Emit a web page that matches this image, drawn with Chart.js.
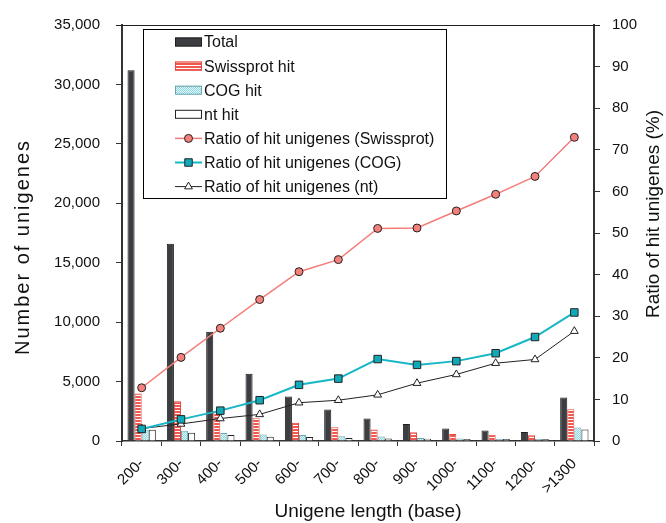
<!DOCTYPE html>
<html>
<head>
<meta charset="utf-8">
<script src="https://cdn.jsdelivr.net/npm/chart.js@4.4.1/dist/chart.umd.min.js"></script>
<style>
  body { margin: 0; background: #fff; }
  #chart { display: block; }
</style>
</head>
<body>
<canvas id="chart" width="666" height="523" style="width:666px;height:523px"></canvas>
<script>
const categories = ["200-", "300-", "400-", "500-", "600-", "700-", "800-", "900-", "1000-", "1100-", "1200-", ">1300"];

// counts (left axis)
const totalCounts = [31200, 16600, 9200, 5650, 3750, 2650, 1900, 1420, 1060, 880, 750, 3660];
const swissprotCounts = [4000, 3350, 2490, 1920, 1530, 1150, 970, 730, 590, 520, 475, 2680];
const cogCounts = [905, 860, 680, 555, 505, 400, 370, 260, 205, 186, 188, 1130];
const ntCounts = [940, 690, 500, 365, 345, 262, 212, 197, 170, 165, 147, 966];

// ratios in % (right axis)
const swissprotRatio = [12.8, 20.1, 27.1, 34.0, 40.7, 43.6, 51.1, 51.2, 55.3, 59.3, 63.6, 73.0];
const cogRatio = [2.9, 5.2, 7.3, 9.8, 13.5, 15.0, 19.7, 18.3, 19.2, 21.1, 25.0, 30.9];
const ntRatio = [3.0, 4.1, 5.4, 6.4, 9.2, 9.8, 11.1, 13.9, 16.0, 18.7, 19.6, 26.4];

const leftTicks = [0, 5000, 10000, 15000, 20000, 25000, 30000, 35000];
const rightTicks = [0, 10, 20, 30, 40, 50, 60, 70, 80, 90, 100];

const FONT = "'Liberation Sans', Arial, Helvetica, sans-serif";

function stripePattern() {
    const c = document.createElement("canvas");
    c.width = 4; c.height = 3;
    const g = c.getContext("2d");
    g.fillStyle = "#f0584f";
    g.fillRect(0, 0, 4, 3);
    g.fillStyle = "#ffffff";
    g.fillRect(0, 2, 4, 1);
    return g.createPattern(c, "repeat");
}

function dotPattern() {
    const c = document.createElement("canvas");
    c.width = 2; c.height = 2;
    const g = c.getContext("2d");
    g.fillStyle = "#e2f6f9";
    g.fillRect(0, 0, 2, 2);
    g.fillStyle = "#8fd6e0";
    g.fillRect(0, 0, 1, 1);
    g.fillRect(1, 1, 1, 1);
    return g.createPattern(c, "repeat");
}

const swissFill = stripePattern();
const cogFill = dotPattern();

const legendItems = [
    { type: "bar", label: "Total", fill: "#3d3e42", stroke: "#1e1e1e" },
    { type: "bar", label: "Swissprot hit", fill: swissFill, stroke: "#e04a42" },
    { type: "bar", label: "COG hit", fill: cogFill, stroke: "#6aa5ad" },
    { type: "bar", label: "nt hit", fill: "#ffffff", stroke: "#222" },
    { type: "line", label: "Ratio of hit unigenes (Swissprot)", line: "#f47c78", fill: "#f4807c", style: "circle", r: 4, lw: 1.5 },
    { type: "line", label: "Ratio of hit unigenes (COG)", line: "#17b7c7", fill: "#10a9b9", style: "rect", r: 5.3, lw: 2 },
    { type: "line", label: "Ratio of hit unigenes (nt)", line: "#222", fill: "#ffffff", style: "triangle", r: 4.5, lw: 1 }
];

function drawMarker(ctx, style, r, x, y) {
    if (style === "circle") {
        ctx.arc(x, y, r, 0, Math.PI * 2);
    } else if (style === "rect") {
        const s = r * Math.SQRT1_2;
        ctx.rect(x - s, y - s, 2 * s, 2 * s);
    } else {
        const h = r * Math.sqrt(3) / 2;
        ctx.moveTo(x, y - r);
        ctx.lineTo(x + h, y + r / 2);
        ctx.lineTo(x - h, y + r / 2);
        ctx.closePath();
    }
}

const decorPlugin = {
    id: "decor",
    afterDraw(chart) {
        const ctx = chart.ctx;
        const area = chart.chartArea;
        ctx.save();

        // top frame line
        ctx.strokeStyle = "#222";
        ctx.lineWidth = 1;
        ctx.beginPath();
        ctx.moveTo(area.left - 5, area.top + 0.5);
        ctx.lineTo(area.right + 6, area.top + 0.5);
        ctx.stroke();

        // legend box
        const bx = 143.5, by = 29.5, bw = 303, bh = 169;
        ctx.fillStyle = "#fff";
        ctx.fillRect(bx, by, bw, bh);
        ctx.strokeStyle = "#000";
        ctx.lineWidth = 1;
        ctx.strokeRect(bx, by, bw, bh);

        ctx.font = "16px " + FONT;
        ctx.textBaseline = "middle";
        ctx.textAlign = "left";
        legendItems.forEach((it, i) => {
            const cy = 42 + i * 24.1;
            const sx = 175, sw = 27;
            if (it.type === "bar") {
                ctx.fillStyle = it.fill;
                ctx.fillRect(sx, cy - 4.5, sw, 9);
                ctx.strokeStyle = it.stroke;
                ctx.lineWidth = 1;
                ctx.strokeRect(sx + 0.5, cy - 4, sw - 1, 8);
            } else {
                ctx.strokeStyle = it.line;
                ctx.lineWidth = it.lw;
                ctx.beginPath();
                ctx.moveTo(sx, cy);
                ctx.lineTo(sx + sw, cy);
                ctx.stroke();
                ctx.fillStyle = it.fill;
                ctx.strokeStyle = "#222";
                ctx.lineWidth = 1;
                ctx.beginPath();
                drawMarker(ctx, it.style, it.r, sx + sw / 2, cy);
                ctx.fill();
                ctx.stroke();
            }
            ctx.fillStyle = "#111";
            ctx.fillText(it.label, 204, cy + 1);
        });

        // axis titles
        ctx.fillStyle = "#111";
        ctx.font = "19px " + FONT;
        ctx.textAlign = "center";
        ctx.textBaseline = "middle";
        ctx.fillText("Unigene length (base)", 368, 512);

        ctx.save();
        ctx.translate(29, 248);
        ctx.rotate(-Math.PI / 2);
        ctx.font = "20px " + FONT;
        ctx.letterSpacing = "2px";
        ctx.textBaseline = "alphabetic";
        ctx.fillText("Number of unigenes", 1, 0);
        ctx.restore();

        ctx.save();
        ctx.translate(654, 214);
        ctx.rotate(-Math.PI / 2);
        ctx.fillText("Ratio of hit unigenes (%)", 0, 0);
        ctx.restore();

        ctx.restore();
    }
};

const ctx = document.getElementById("chart").getContext("2d");

new Chart(ctx, {
    type: "bar",
    data: {
        labels: categories,
        datasets: [
            {
                type: "line", label: "Ratio of hit unigenes (Swissprot)", data: swissprotRatio, yAxisID: "y1", order: 0,
                borderColor: "#f47c78", borderWidth: 1.5, pointStyle: "circle", pointRadius: 4,
                pointBackgroundColor: "#f4807c", pointBorderColor: "#222", pointBorderWidth: 1, tension: 0
            },
            {
                type: "line", label: "Ratio of hit unigenes (COG)", data: cogRatio, yAxisID: "y1", order: 0,
                borderColor: "#17b7c7", borderWidth: 2, pointStyle: "rect", pointRadius: 5.3,
                pointBackgroundColor: "#10a9b9", pointBorderColor: "#222", pointBorderWidth: 1, tension: 0
            },
            {
                type: "line", label: "Ratio of hit unigenes (nt)", data: ntRatio, yAxisID: "y1", order: 0,
                borderColor: "#222", borderWidth: 1, pointStyle: "triangle", pointRadius: 4.5,
                pointBackgroundColor: "#ffffff", pointBorderColor: "#222", pointBorderWidth: 1, tension: 0
            },
            { label: "Total", data: totalCounts, yAxisID: "y", order: 1, backgroundColor: "#3d3e42", borderColor: "#1e1e1e", borderWidth: 1 },
            { label: "Swissprot hit", data: swissprotCounts, yAxisID: "y", order: 1, backgroundColor: swissFill, borderColor: "#e04a42", borderWidth: 1 },
            { label: "COG hit", data: cogCounts, yAxisID: "y", order: 1, backgroundColor: cogFill, borderColor: "#6aa5ad", borderWidth: 1 },
            { label: "nt hit", data: ntCounts, yAxisID: "y", order: 1, backgroundColor: "#ffffff", borderColor: "#222", borderWidth: 1 }
        ]
    },
    options: {
        responsive: false,
        animation: false,
        layout: { padding: { top: 23, left: 0, right: 0, bottom: 0 } },
        datasets: { bar: { barPercentage: 1, categoryPercentage: 0.72 } },
        plugins: { legend: { display: false }, tooltip: { enabled: false } },
        scales: {
            x: {
                grid: { offset: true, drawOnChartArea: false, tickLength: 5, color: "#333", lineWidth: 1 },
                border: { color: "#333", width: 1.5 },
                ticks: { minRotation: 45, maxRotation: 45, color: "#111", padding: 9, font: { family: FONT, size: 15 } },
                afterFit: s => { s.height = 82; }
            },
            y: {
                position: "left", min: 0, max: 35000,
                afterBuildTicks: s => { s.ticks = leftTicks.map(v => ({ value: v })); },
                ticks: { color: "#111", padding: 16, font: { family: FONT, size: 15 } },
                grid: { drawOnChartArea: false, tickLength: 6, color: "#333" },
                border: { color: "#333", width: 2 },
                afterFit: s => { s.width = 122; }
            },
            y1: {
                position: "right", min: 0, max: 100,
                afterBuildTicks: s => { s.ticks = rightTicks.map(v => ({ value: v })); },
                ticks: { color: "#111", padding: 12, font: { family: FONT, size: 15 } },
                grid: { drawOnChartArea: false, tickLength: 6, color: "#333" },
                border: { color: "#333", width: 2 },
                afterFit: s => { s.width = 72; }
            }
        }
    },
    plugins: [decorPlugin]
});
</script>
</body>
</html>
